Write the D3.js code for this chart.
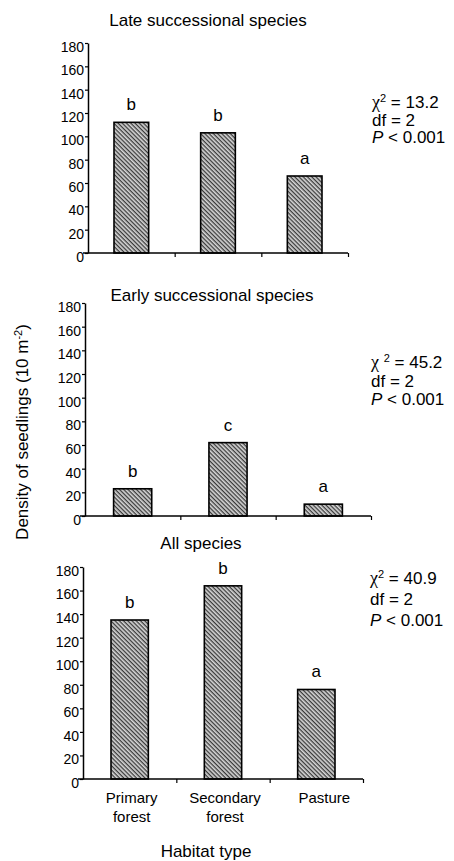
<!DOCTYPE html>
<html>
<head>
<meta charset="utf-8">
<script src="https://cdn.jsdelivr.net/npm/d3@7"></script>
<style>
  body { margin: 0; background: #fff; }
  svg text { font-family: "Liberation Sans", Arial, sans-serif; fill: #000; }
</style>
</head>
<body>
<div id="chart"></div>
<script>
var categories = ["Primary forest", "Secondary forest", "Pasture"];
var lateValues = [112, 103, 66];
var earlyValues = [23, 62, 10];
var allValues = [135, 164, 76];
var lateLetters = ["b", "b", "a"];
var earlyLetters = ["b", "c", "a"];
var allLetters = ["b", "b", "a"];
var yTicks = [0, 20, 40, 60, 80, 100, 120, 140, 160, 180];
var chiValues = ["13.2", "45.2", "40.9"];
var dfValues = ["2", "2", "2"];
var pValues = ["0.001", "0.001", "0.001"];
var titles = ["Late successional species", "Early successional species", "All species"];

var w = 454, h = 861;

var svg = d3.select("#chart").append("svg")
    .attr("width", w)
    .attr("height", h);

// diagonal hatch like the scanned bars
var pat = svg.append("defs").append("pattern")
    .attr("id", "hatch")
    .attr("patternUnits", "userSpaceOnUse")
    .attr("width", 3)
    .attr("height", 3)
    .attr("patternTransform", "rotate(45)");
pat.append("rect").attr("width", 3).attr("height", 3).attr("fill", "#d6d6d6");
pat.append("rect").attr("width", 3).attr("height", 1.3).attr("fill", "#3a3a3a");

var panels = [
  { values: lateValues, letters: lateLetters, x0: 88, x1: 348, top: 43, base: 253,
    titleX: 208, titleY: 26, statX: 372, statY: 108, statGap: 17.5, chiSpace: false },
  { values: earlyValues, letters: earlyLetters, x0: 85, x1: 371, top: 303, base: 516,
    titleX: 212, titleY: 301, statX: 371, statY: 368, statGap: 18.5, chiSpace: true },
  { values: allValues, letters: allLetters, x0: 83, x1: 363, top: 567, base: 779,
    titleX: 201, titleY: 549, statX: 370, statY: 584, statGap: 21, chiSpace: false }
];

panels.forEach(function(p, k) {
  var g = svg.append("g");

  var x = d3.scaleBand()
      .domain(categories)
      .range([p.x0, p.x1])
      .paddingInner(0.6)
      .paddingOuter(0.3);

  var xt = d3.scaleLinear().domain([0, 3]).range([p.x0, p.x1]);

  var y = d3.scaleLinear()
      .domain([0, 180])
      .range([p.base, p.top]);

  // bars
  g.selectAll("rect.bar")
      .data(p.values)
      .enter()
      .append("rect")
      .attr("class", "bar")
      .attr("x", function(d, i) { return x(categories[i]); })
      .attr("y", function(d) { return y(d); })
      .attr("width", x.bandwidth())
      .attr("height", function(d) { return p.base - y(d); })
      .attr("fill", "url(#hatch)")
      .attr("stroke", "#000")
      .attr("stroke-width", 1.6);

  // significance letters
  g.selectAll("text.letter")
      .data(p.values)
      .enter()
      .append("text")
      .attr("class", "letter")
      .text(function(d, i) { return p.letters[i]; })
      .attr("x", function(d, i) { return x(categories[i]) + x.bandwidth() / 2; })
      .attr("y", function(d) { return y(d) - 12; })
      .attr("font-size", "17px")
      .attr("text-anchor", "middle");

  // y axis
  var ya = g.append("g")
      .attr("transform", "translate(" + p.x0 + ",0)")
      .call(d3.axisLeft(y).tickValues(yTicks).tickSize(3).tickSizeOuter(0).tickPadding(1));
  ya.select(".domain").attr("stroke-width", 1.5);
  ya.selectAll(".tick line").attr("stroke-width", 1.2);
  ya.selectAll(".tick text")
      .attr("font-size", "14px")
      .attr("font-family", "Liberation Sans, Arial, sans-serif")
      .attr("dy", "0.6em");

  // x axis
  var xa = g.append("g")
      .attr("transform", "translate(0," + p.base + ")")
      .call(d3.axisBottom(xt).tickValues([1, 2, 3]).tickFormat("").tickSize(4).tickSizeOuter(0));
  xa.select(".domain").attr("d", "M" + (p.x0 - 5) + ",0H" + p.x1).attr("stroke-width", 1.5);
  xa.selectAll(".tick line").attr("stroke-width", 1.2);

  // title
  g.append("text")
      .text(titles[k])
      .attr("x", p.titleX)
      .attr("y", p.titleY)
      .attr("font-size", "17px")
      .attr("text-anchor", "middle");

  // stats
  var st = g.append("text")
      .attr("font-size", "17px");
  var l1 = st.append("tspan").attr("x", p.statX).attr("y", p.statY);
  l1.append("tspan").text("\u03C7").attr("font-family", "Liberation Serif, serif").attr("font-size", "18px");
  if (p.chiSpace) l1.append("tspan").text(" ");
  l1.append("tspan").text("2").attr("font-size", "11px").attr("dy", "-6");
  l1.append("tspan").text(" = " + chiValues[k]).attr("dy", "6");
  st.append("tspan").attr("x", p.statX).attr("y", p.statY + p.statGap).text("df = " + dfValues[k]);
  var l3 = st.append("tspan").attr("x", p.statX).attr("y", p.statY + 2 * p.statGap);
  l3.append("tspan").text("P").attr("font-style", "italic");
  l3.append("tspan").text(" < " + pValues[k]);

  // category labels under the last panel
  if (k === 2) {
    g.selectAll("text.cat")
        .data(categories)
        .enter()
        .append("text")
        .attr("class", "cat")
        .attr("font-size", "15px")
        .attr("text-anchor", "middle")
        .each(function(d) {
          var words = d.split(" ");
          var t = d3.select(this);
          words.forEach(function(wd, j) {
            t.append("tspan")
                .attr("x", x(d) + x.bandwidth() / 2 + (words.length === 1 ? 8 : 2))
                .attr("y", p.base + 24 + j * 19)
                .text(wd);
          });
        });
  }
});

// shared axis titles
var yl = svg.append("text")
    .attr("transform", "translate(28,432) rotate(-90)")
    .attr("font-size", "17px")
    .attr("text-anchor", "middle");
yl.append("tspan").text("Density of seedlings (10 m");
yl.append("tspan").text("-2").attr("font-size", "11px").attr("dy", "-6");
yl.append("tspan").text(")").attr("dy", "6");

svg.append("text")
    .text("Habitat type")
    .attr("x", 206)
    .attr("y", 857)
    .attr("font-size", "17px")
    .attr("text-anchor", "middle");
</script>
</body>
</html>
